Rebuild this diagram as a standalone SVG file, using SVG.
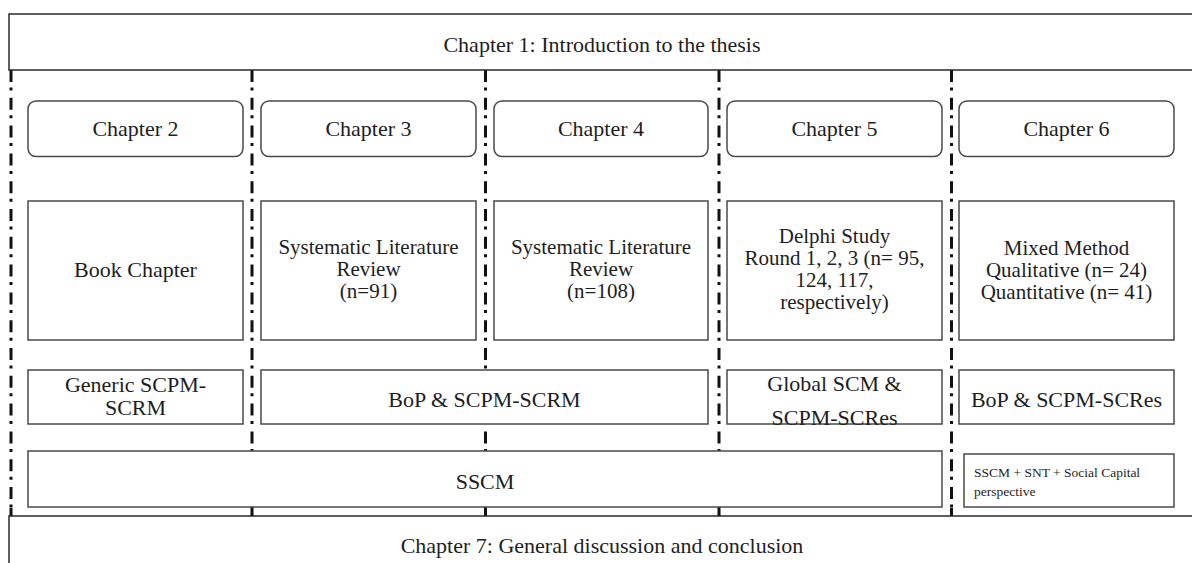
<svg xmlns="http://www.w3.org/2000/svg" width="1192" height="563" viewBox="0 0 1192 563">
  <style>
    .frame { fill: none; stroke: #2a2a2a; stroke-width: 1.5; }
    .box { fill: #ffffff; stroke: #4a4a4a; stroke-width: 1.5; }
    .divider { fill: none; stroke: #111111; stroke-width: 3; stroke-dasharray: 12 5.5 3 7.3; }
    .tick { stroke: #111111; stroke-width: 3; }
    .t { font-family: "Liberation Serif", "Times New Roman", serif; font-size: 22px; fill: #1e1e1e; text-anchor: middle; }
    .m { font-family: "Liberation Serif", "Times New Roman", serif; font-size: 21px; fill: #1e1e1e; text-anchor: middle; }
    .small { font-family: "Liberation Serif", "Times New Roman", serif; font-size: 13.5px; fill: #1e1e1e; }
  </style>

  <rect width="1192" height="563" fill="#ffffff"/>

  <!-- column dividers (dash-dot) -->
  <g id="connectors">
    <line class="divider" x1="11" y1="70" x2="11" y2="516"/>
    <line class="divider" x1="252" y1="70" x2="252" y2="516"/>
    <line class="divider" x1="485.5" y1="70" x2="485.5" y2="516"/>
    <line class="divider" x1="719" y1="70" x2="719" y2="516"/>
    <line class="divider" x1="951.5" y1="70" x2="951.5" y2="516"/>
    <line class="tick" x1="11" y1="508" x2="11" y2="516"/>
    <line class="tick" x1="252" y1="507" x2="252" y2="516"/>
    <line class="tick" x1="485.5" y1="507" x2="485.5" y2="516"/>
    <line class="tick" x1="719" y1="507" x2="719" y2="516"/>
    <line class="tick" x1="951.5" y1="508" x2="951.5" y2="516"/>
  </g>

  <!-- header band -->
  <g id="chapter1">
    <path class="frame" d="M1192 14 H9 V70 H1192"/>
    <text class="t" x="602" y="52">Chapter 1: Introduction to the thesis</text>
  </g>

  <!-- chapter headings -->
  <g id="chapter2">
    <rect class="box" x="28" y="101" width="215" height="55.5" rx="8"/>
    <text class="t" x="135.5" y="136">Chapter 2</text>
  </g>
  <g id="chapter3">
    <rect class="box" x="261" y="101" width="215" height="55.5" rx="8"/>
    <text class="t" x="368.5" y="136">Chapter 3</text>
  </g>
  <g id="chapter4">
    <rect class="box" x="494" y="101" width="214" height="55.5" rx="8"/>
    <text class="t" x="601" y="136">Chapter 4</text>
  </g>
  <g id="chapter5">
    <rect class="box" x="727" y="101" width="215" height="55.5" rx="8"/>
    <text class="t" x="834.5" y="136">Chapter 5</text>
  </g>
  <g id="chapter6">
    <rect class="box" x="959" y="101" width="215" height="55.5" rx="8"/>
    <text class="t" x="1066.5" y="136">Chapter 6</text>
  </g>

  <!-- methods -->
  <g id="method2">
    <rect class="box" x="28" y="201" width="215" height="139"/>
    <text class="t" x="135.5" y="277">Book Chapter</text>
  </g>
  <g id="method3">
    <rect class="box" x="261" y="201" width="215" height="139"/>
    <text class="m" x="368.5" y="254">Systematic Literature</text>
    <text class="m" x="368.5" y="276">Review</text>
    <text class="m" x="368.5" y="298">(n=91)</text>
  </g>
  <g id="method4">
    <rect class="box" x="494" y="201" width="214" height="139"/>
    <text class="m" x="601" y="254">Systematic Literature</text>
    <text class="m" x="601" y="276">Review</text>
    <text class="m" x="601" y="298">(n=108)</text>
  </g>
  <g id="method5">
    <rect class="box" x="727" y="201" width="215" height="139"/>
    <text class="m" x="834.5" y="243">Delphi Study</text>
    <text class="m" x="834.5" y="265">Round 1, 2, 3 (n= 95,</text>
    <text class="m" x="834.5" y="287">124, 117,</text>
    <text class="m" x="834.5" y="309">respectively)</text>
  </g>
  <g id="method6">
    <rect class="box" x="959" y="201" width="215" height="139"/>
    <text class="m" x="1066.5" y="255">Mixed Method</text>
    <text class="m" x="1066.5" y="277">Qualitative (n= 24)</text>
    <text class="m" x="1066.5" y="299">Quantitative (n= 41)</text>
  </g>

  <!-- topics -->
  <g id="topic2">
    <rect class="box" x="28" y="370" width="215" height="54"/>
    <text class="t" x="135.5" y="392">Generic SCPM-</text>
    <text class="t" x="135.5" y="415">SCRM</text>
  </g>
  <g id="topic34">
    <rect class="box" x="261" y="370" width="447" height="54"/>
    <text class="t" x="484.5" y="407">BoP &amp; SCPM-SCRM</text>
  </g>
  <g id="topic5">
    <rect class="box" x="727" y="370" width="215" height="54"/>
    <text class="t" x="834.5" y="391">Global SCM &amp;</text>
    <text class="t" x="834.5" y="425">SCPM-SCRes</text>
  </g>
  <g id="topic6">
    <rect class="box" x="959" y="370" width="215" height="54"/>
    <text class="t" x="1066.5" y="407">BoP &amp; SCPM-SCRes</text>
  </g>

  <!-- perspectives -->
  <g id="sscm">
    <rect class="box" x="28" y="451" width="914" height="56"/>
    <text class="t" x="485" y="489">SSCM</text>
  </g>
  <g id="sscm-snt">
    <rect class="box" x="964" y="454" width="210" height="53"/>
    <text class="small" x="974" y="477">SSCM + SNT + Social Capital</text>
    <text class="small" x="974" y="496">perspective</text>
  </g>

  <!-- closing band -->
  <g id="chapter7">
    <path class="frame" d="M1192 516 H9 V563"/>
    <text class="t" x="602" y="553">Chapter 7: General discussion and conclusion</text>
  </g>
</svg>
